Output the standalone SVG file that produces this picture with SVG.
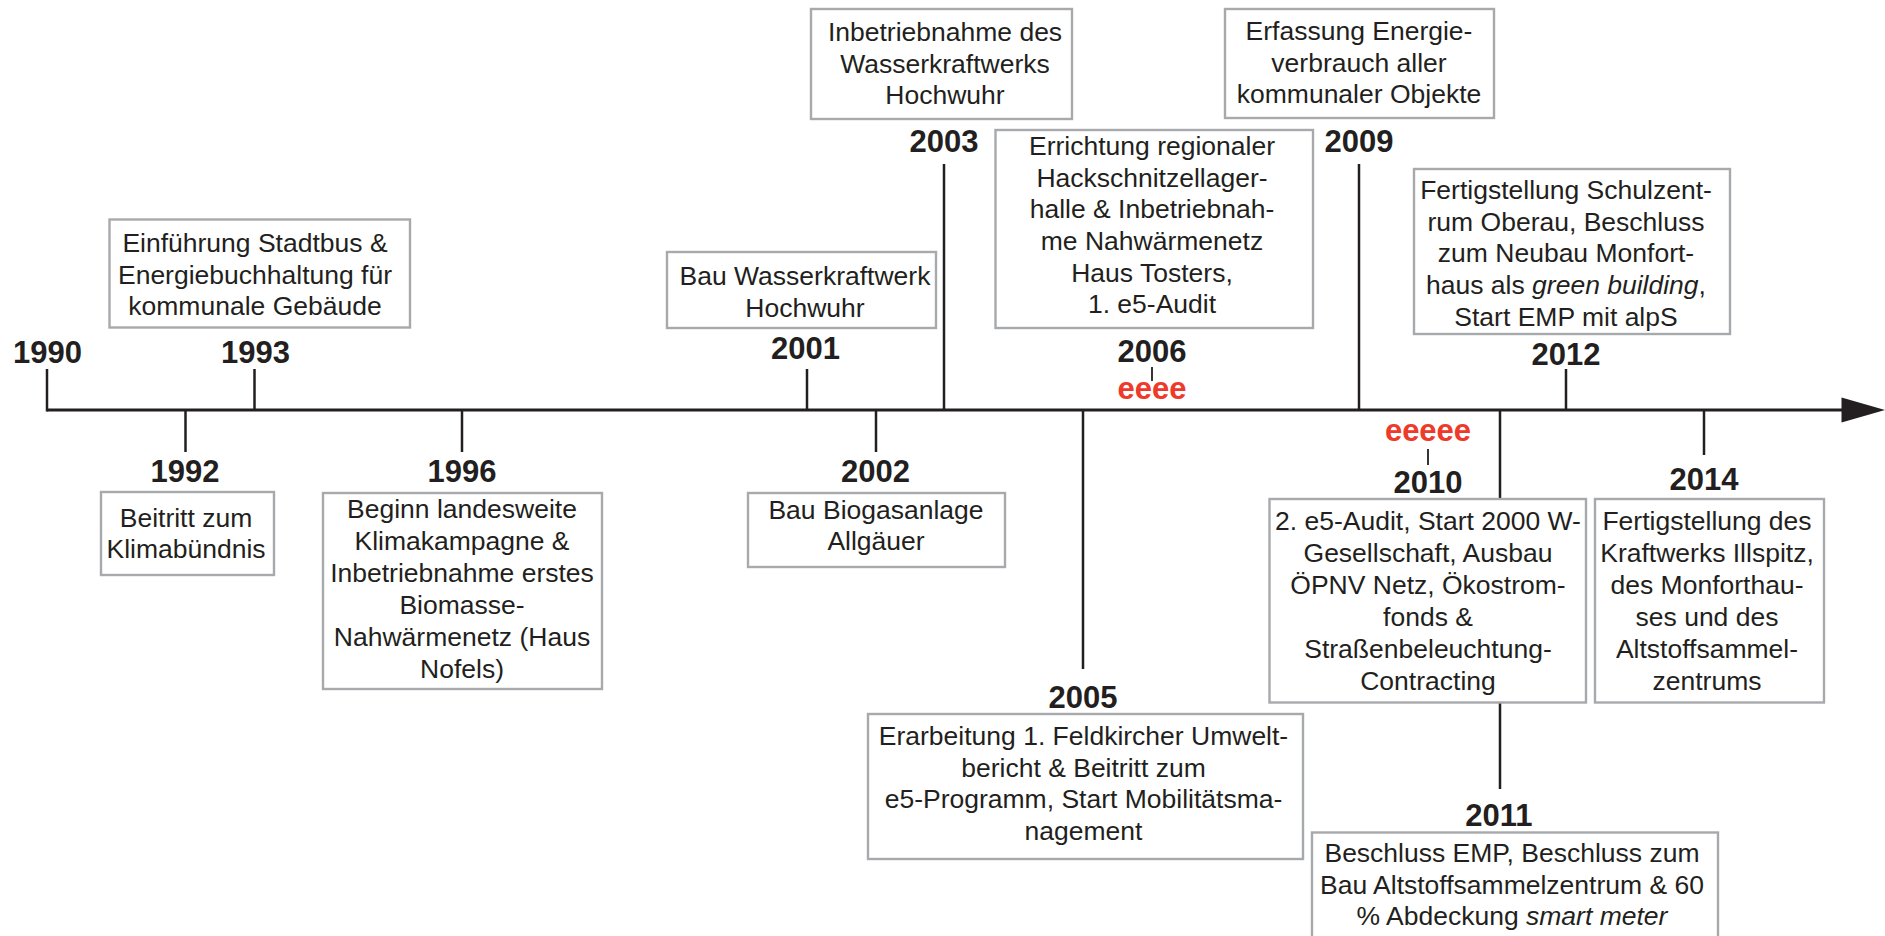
<svg xmlns="http://www.w3.org/2000/svg" width="1885" height="936" viewBox="0 0 1885 936">
  <style>
    .bg { fill: #ffffff; }
    .box { fill: #ffffff; stroke: #a7a9ac; stroke-width: 2.4; }
    .txt { font-family: "Liberation Sans", Arial, sans-serif; font-size: 26.5px; fill: #231f20; text-anchor: middle; }
    .year { font-family: "Liberation Sans", Arial, sans-serif; font-size: 31px; font-weight: bold; fill: #231f20; text-anchor: middle; }
    .mark { font-family: "Liberation Sans", Arial, sans-serif; font-size: 31px; font-weight: bold; fill: #ee3a2b; text-anchor: middle; }
    .axis { stroke: #231f20; stroke-width: 3; fill: none; }
    .tick { stroke: #231f20; stroke-width: 2.5; fill: none; }
    .stub { stroke: #231f20; stroke-width: 1.8; fill: none; }
    .em { font-style: italic; }
  </style>

  <rect class="bg" x="0" y="0" width="1885" height="936"/>

  <!-- timeline axis and year ticks -->
  <g id="connectors">
    <line class="axis" x1="47" y1="410" x2="1845" y2="410"/>
    <polygon points="1841.5,397.5 1885,410 1841.5,422.5" fill="#231f20"/>
    <!-- ticks above the axis -->
    <line class="tick" x1="47" y1="369" x2="47" y2="411.5"/>
    <line class="tick" x1="254.5" y1="369" x2="254.5" y2="410"/>
    <line class="tick" x1="807" y1="369" x2="807" y2="410"/>
    <line class="tick" x1="944" y1="164" x2="944" y2="410"/>
    <line class="tick" x1="1359" y1="164" x2="1359" y2="410"/>
    <line class="tick" x1="1566" y1="369" x2="1566" y2="410"/>
    <line class="stub" x1="1152" y1="367" x2="1152" y2="381"/>
    <!-- ticks below the axis -->
    <line class="tick" x1="185.5" y1="410" x2="185.5" y2="452"/>
    <line class="tick" x1="462" y1="410" x2="462" y2="452"/>
    <line class="tick" x1="876" y1="410" x2="876" y2="452"/>
    <line class="tick" x1="1083" y1="410" x2="1083" y2="669"/>
    <line class="tick" x1="1500" y1="410" x2="1500" y2="789"/>
    <line class="tick" x1="1704" y1="410" x2="1704" y2="455"/>
    <line class="stub" x1="1428" y1="449" x2="1428" y2="465"/>
  </g>

  <g id="y1990">
    <text class="year" x="47.5" y="363">1990</text>
  </g>

  <g id="y1992">
    <text class="year" x="185" y="482">1992</text>
    <rect class="box" x="101" y="492" width="173" height="83"/>
    <text class="txt" x="186" y="527">Beitritt zum</text>
    <text class="txt" x="186" y="558">Klimabündnis</text>
  </g>

  <g id="y1993">
    <rect class="box" x="109.5" y="219.5" width="300.5" height="108"/>
    <text class="txt" x="255" y="252">Einführung Stadtbus &amp;</text>
    <text class="txt" x="255" y="283.5">Energiebuchhaltung für</text>
    <text class="txt" x="255" y="315">kommunale Gebäude</text>
    <text class="year" x="255.5" y="363">1993</text>
  </g>

  <g id="y1996">
    <text class="year" x="462" y="482">1996</text>
    <rect class="box" x="323" y="493" width="279" height="196"/>
    <text class="txt" x="462" y="518">Beginn landesweite</text>
    <text class="txt" x="462" y="550">Klimakampagne &amp;</text>
    <text class="txt" x="462" y="582">Inbetriebnahme erstes</text>
    <text class="txt" x="462" y="614">Biomasse-</text>
    <text class="txt" x="462" y="646">Nahwärmenetz (Haus</text>
    <text class="txt" x="462" y="678">Nofels)</text>
  </g>

  <g id="y2001">
    <rect class="box" x="667" y="252" width="269" height="76"/>
    <text class="txt" x="805" y="285">Bau Wasserkraftwerk</text>
    <text class="txt" x="805" y="317">Hochwuhr</text>
    <text class="year" x="805.5" y="358.5">2001</text>
  </g>

  <g id="y2002">
    <text class="year" x="875.5" y="482">2002</text>
    <rect class="box" x="748" y="493" width="257" height="74"/>
    <text class="txt" x="876" y="519">Bau Biogasanlage</text>
    <text class="txt" x="876" y="550">Allgäuer</text>
  </g>

  <g id="y2003">
    <rect class="box" x="811" y="9" width="261" height="110"/>
    <text class="txt" x="945" y="41">Inbetriebnahme des</text>
    <text class="txt" x="945" y="72.5">Wasserkraftwerks</text>
    <text class="txt" x="945" y="104">Hochwuhr</text>
    <text class="year" x="944" y="151.5">2003</text>
  </g>

  <g id="y2005">
    <text class="year" x="1083" y="708">2005</text>
    <rect class="box" x="868" y="714" width="435" height="145"/>
    <text class="txt" x="1083.5" y="745">Erarbeitung 1. Feldkircher Umwelt-</text>
    <text class="txt" x="1083.5" y="777">bericht &amp; Beitritt zum</text>
    <text class="txt" x="1083.5" y="808">e5-Programm, Start Mobilitätsma-</text>
    <text class="txt" x="1083.5" y="840">nagement</text>
  </g>

  <g id="y2006">
    <rect class="box" x="995.5" y="130" width="317.5" height="198"/>
    <text class="txt" x="1152" y="155">Errichtung regionaler</text>
    <text class="txt" x="1152" y="186.7">Hackschnitzellager-</text>
    <text class="txt" x="1152" y="218.3">halle &amp; Inbetriebnah-</text>
    <text class="txt" x="1152" y="250">me Nahwärmenetz</text>
    <text class="txt" x="1152" y="281.7">Haus Tosters,</text>
    <text class="txt" x="1152" y="313.3">1. e5-Audit</text>
    <text class="year" x="1152" y="362">2006</text>
    <text class="mark" x="1152" y="398.5">eeee</text>
  </g>

  <g id="y2009">
    <rect class="box" x="1225" y="9" width="269" height="109"/>
    <text class="txt" x="1359" y="40">Erfassung Energie-</text>
    <text class="txt" x="1359" y="72">verbrauch aller</text>
    <text class="txt" x="1359" y="103">kommunaler Objekte</text>
    <text class="year" x="1359" y="151.5">2009</text>
  </g>

  <g id="y2010">
    <text class="mark" x="1428" y="441">eeeee</text>
    <text class="year" x="1428" y="493">2010</text>
    <rect class="box" x="1269.5" y="499" width="316.5" height="203.5"/>
    <text class="txt" x="1428" y="530">2. e5-Audit, Start 2000 W-</text>
    <text class="txt" x="1428" y="562">Gesellschaft, Ausbau</text>
    <text class="txt" x="1428" y="593.5">ÖPNV Netz, Ökostrom-</text>
    <text class="txt" x="1428" y="625.5">fonds &amp;</text>
    <text class="txt" x="1428" y="658">Straßenbeleuchtung-</text>
    <text class="txt" x="1428" y="690">Contracting</text>
  </g>

  <g id="y2011">
    <text class="year" x="1499" y="826">2011</text>
    <rect class="box" x="1312" y="832.5" width="406" height="130"/>
    <text class="txt" x="1512" y="862">Beschluss EMP, Beschluss zum</text>
    <text class="txt" x="1512" y="893.5">Bau Altstoffsammelzentrum &amp; 60</text>
    <text class="txt" x="1512" y="925">% Abdeckung <tspan class="em">smart meter</tspan></text>
  </g>

  <g id="y2012">
    <rect class="box" x="1414" y="169" width="316" height="165"/>
    <text class="txt" x="1566" y="199">Fertigstellung Schulzent-</text>
    <text class="txt" x="1566" y="230.5">rum Oberau, Beschluss</text>
    <text class="txt" x="1566" y="262">zum Neubau Monfort-</text>
    <text class="txt" x="1566" y="294">haus als <tspan class="em">green building</tspan>,</text>
    <text class="txt" x="1566" y="326">Start EMP mit alpS</text>
    <text class="year" x="1566" y="365">2012</text>
  </g>

  <g id="y2014">
    <text class="year" x="1704" y="490">2014</text>
    <rect class="box" x="1595" y="499" width="229" height="203.5"/>
    <text class="txt" x="1707" y="530">Fertigstellung des</text>
    <text class="txt" x="1707" y="562">Kraftwerks Illspitz,</text>
    <text class="txt" x="1707" y="593.5">des Monforthau-</text>
    <text class="txt" x="1707" y="625.5">ses und des</text>
    <text class="txt" x="1707" y="658">Altstoffsammel-</text>
    <text class="txt" x="1707" y="690">zentrums</text>
  </g>
</svg>
